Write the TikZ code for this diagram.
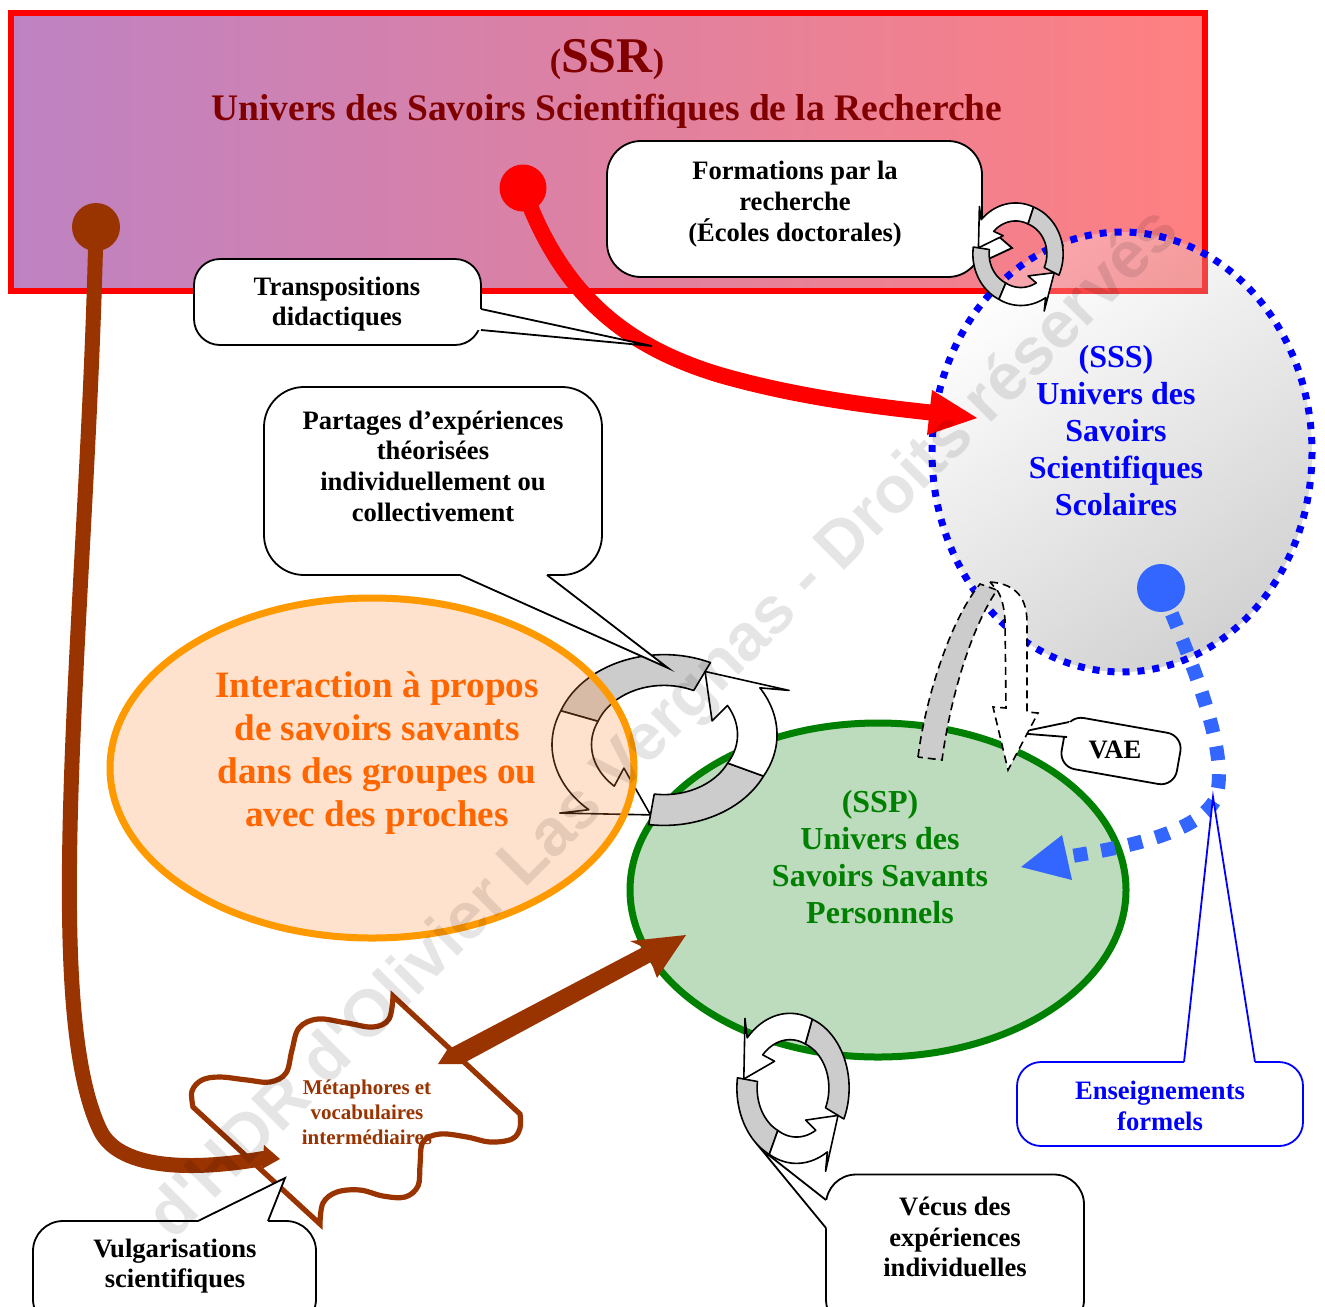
\documentclass[tikz,border=0pt]{standalone}
\usepackage{fontspec}
\setmainfont{Liberation Serif}
\newfontfamily\wmfont{Liberation Sans}
\usetikzlibrary{calc}
\definecolor{hdrL}{RGB}{190,130,195}
\definecolor{hdrR}{RGB}{255,128,128}
\definecolor{ssrRed}{RGB}{255,0,0}
\definecolor{dRed}{RGB}{128,0,0}
\definecolor{sssBlue}{RGB}{0,0,255}
\definecolor{dotBlue}{RGB}{51,102,255}
\definecolor{orB}{RGB}{255,153,0}
\definecolor{orT}{RGB}{255,102,0}
\definecolor{orF}{RGB}{255,140,60}
\definecolor{grB}{RGB}{0,128,0}
\definecolor{grF}{RGB}{189,219,189}
\definecolor{brn}{RGB}{153,51,0}
\definecolor{ribGray}{RGB}{204,204,204}

% one ribbon of a circular arrow: #1 start, #2 gray/white join, #3 head base, #4 tip, #5 bulge
\newcommand\cycrib[5]{%
  \filldraw[ribG] plot[domain=#1:#2,samples=30,variable=\t] ({122*cos(\t)},{122*sin(\t)})
    -- plot[domain=#2:#1,samples=30,variable=\t] ({78*cos(\t)},{78*sin(\t)}) -- cycle;
  \filldraw[ribW] plot[domain=#2:#3,samples=30,variable=\t]
      ({(122+#5*(\t-#2)/(#3-#2))*cos(\t)},{(122+#5*(\t-#2)/(#3-#2))*sin(\t)})
    -- ({(148+#5)*cos(#3-8)},{(148+#5)*sin(#3-8)})
    -- ({(100+#5)*cos(#4)},{(100+#5)*sin(#4)})
    -- ({(52+#5)*cos(#3-8)},{(52+#5)*sin(#3-8)})
    -- plot[domain=#3:#2,samples=30,variable=\t]
      ({(78+#5*(\t-#2)/(#3-#2))*cos(\t)},{(78+#5*(\t-#2)/(#3-#2))*sin(\t)}) -- cycle;
}

\tikzset{
  cbox/.style={draw=black, line width=0.9pt, fill=white, inner sep=0pt},
  ctext/.style={align=center, font=\bfseries\fontsize{13.3}{15.3}\selectfont, inner sep=0pt},
  ribG/.style={draw=black, line width=0.8pt, fill=ribGray, line join=round},
  ribW/.style={draw=black, line width=0.8pt, fill=white, line join=round},
  cline/.style={draw=black, line width=0.9pt, line join=miter},
  vae/.style={draw=black, line width=0.8pt, dash pattern=on 4pt off 2.5pt},
  cyc/.pic={\begin{scope}[yscale=-1]
      \cycrib{65}{160}{230}{262}{8}
      \cycrib{262}{335}{395}{425}{8}
    \end{scope}},
}

\begin{document}
\begin{tikzpicture}[x=0.5pt,y=-0.5pt]
\clip (0,0) rectangle (1325,1306);
\fill[white] (0,0) rectangle (1325,1306);

% ---------- SSR header ----------
\shade[left color=hdrL, right color=hdrR] (11,13) rectangle (1205,291);
\draw[ssrRed, line width=3.2pt] (11,13) rectangle (1205,291);
\node[text=dRed, font=\bfseries, inner sep=0pt] (ssr) at (607,60)
  {\fontsize{17}{20}\selectfont(\fontsize{25}{28}\selectfont SSR\fontsize{17}{20}\selectfont)};
\node[text=dRed, font=\bfseries\fontsize{18.75}{22}\selectfont, inner sep=0pt] (ssrT) at (607,111)
  {Univers des Savoirs Scientifiques de la Recherche};

% ---------- SSS ----------
\shade[top color=white, bottom color=black!58, shading angle=35, opacity=0.3]
  (1122,452) ellipse [x radius=190, y radius=220];
\draw[sssBlue, line width=3.5pt, dash pattern=on 3.5pt off 4pt]
  (1122,452) ellipse [x radius=190, y radius=220];
\node[text=sssBlue, font=\bfseries\fontsize{16}{18.5}\selectfont, align=center, inner sep=0pt] (sss) at (1116,431)
  {(SSS)\\Univers des\\Savoirs\\Scientifiques\\Scolaires};

% ---------- SSP ----------
\fill[grF] (878,890) ellipse [x radius=248, y radius=167];
\draw[grB, line width=3.5pt] (878,890) ellipse [x radius=248, y radius=167];
\node[text=grB, font=\bfseries\fontsize{16}{18.5}\selectfont, align=center, inner sep=0pt] (ssp) at (880,857)
  {(SSP)\\Univers des\\Savoirs Savants\\Personnels};

% ---------- big circular arrow ----------
\pic[xscale=0.9, yscale=0.7] at (664,740) {cyc};

% ---------- orange ellipse ----------
\fill[orF, fill opacity=0.25] (372,768) ellipse [x radius=262, y radius=170];
\draw[orB, line width=3.5pt] (372,768) ellipse [x radius=262, y radius=170];
\node[text=orT, font=\bfseries\fontsize{18.6}{21.6}\selectfont, align=center, inner sep=0pt] (inter) at (377,753)
  {Interaction à propos\\de savoirs savants\\dans des groupes ou\\avec des proches};

% ---------- red arrow ----------
\node[circle, fill=ssrRed, minimum size=23.5pt, inner sep=0pt] (rdot) at (523,188) {};
\coordinate (rtip) at (977,418);
\draw[ssrRed, line width=8pt] (rdot.center) .. controls (560,290) and (620,345) .. (720,375)
  .. controls (800,398) and (880,407) .. (935,413);
\fill[ssrRed] (932,390) -- (rtip) -- (927,435) -- cycle;

% ---------- brown arrow ----------
\node[circle, fill=brn, minimum size=24pt, inner sep=0pt] (bdot) at (96,227) {};
\coordinate (btip) at (280,1159);
\draw[brn, line width=7.5pt] (bdot.center) .. controls (88,600) and (38,1000) .. (100,1130)
  .. controls (120,1172) and (200,1170) .. (266,1158);
\fill[brn] (264,1145) -- (btip) -- (262,1169) -- cycle;

% ---------- Metaphores shape ----------
\draw[brn, line width=2.6pt, line join=miter]
  (393,996) -- (520,1114)
  -- plot[smooth, tension=0.6] coordinates {(520,1114) (520,1128) (512,1139) (490,1142) (467,1137) (440,1134) (423,1142) (420,1165) (418,1186) (405,1197) (383,1196) (360,1190) (337,1192) (323,1203) (320,1224)}
  -- (193,1107)
  -- plot[smooth, tension=0.6] coordinates {(193,1107) (192,1091) (202,1080) (220,1077) (247,1080) (270,1082) (286,1073) (292,1050) (299,1028) (318,1019) (347,1023) (373,1027) (389,1019) (393,996)}
  -- cycle;
\node[text=brn, font=\bfseries\fontsize{10.5}{12.5}\selectfont, align=center, inner sep=0pt] (meta) at (367,1112)
  {Métaphores et\\vocabulaires\\intermédiaires};
\coordinate (mtip) at (686,935);
\fill[brn] (438,1064) -- (447,1050) -- (643,947) -- (630,941) -- (mtip) -- (657,978) -- (651,962) -- (462,1064) -- cycle;

% ---------- blue dotted arrow ----------
\node[circle, fill=dotBlue, minimum size=24pt, inner sep=0pt] (bldot) at (1161,588) {};
\coordinate (bltip) at (1021,867);
\draw[dotBlue, line width=7pt, dash pattern=on 7pt off 7pt] (bldot.center)
  .. controls (1200,680) and (1230,760) .. (1215,800)
  .. controls (1195,835) and (1120,848) .. (1066,857);
\fill[dotBlue] (1062,835) -- (bltip) -- (1072,880) -- cycle;

% ---------- callouts ----------
% Formations
\node[cbox, rounded corners=17pt, minimum width=187.5pt, minimum height=68pt] (fmB) at (794.5,209) {};
\fill[white] (982,222) -- (1012,248) -- (982,262) -- (976,262) -- (976,222) -- cycle;
\draw[cline] (982,222) -- (1012,248) -- (982,262);
\node[ctext, font=\bfseries\fontsize{13.3}{15.5}\selectfont] (fmT) at (795,204)
  {Formations par la\\recherche\\(Écoles doctorales)};

% Transpositions
\node[cbox, rounded corners=13pt, minimum width=143.5pt, minimum height=43pt] (tpB) at (337.5,302) {};
\coordinate (tpTip) at (652,346);
\fill[white] (481,309) -- (tpTip) -- (481,330) -- (476,330) -- (476,309) -- cycle;
\draw[cline] (481,309) -- (tpTip) -- (481,330);
\node[ctext] (tpT) at (337,304) {Transpositions\\didactiques};

% Partages
\node[cbox, rounded corners=20pt, minimum width=169pt, minimum height=94pt] (ptB) at (433,481) {};
\coordinate (ptTip) at (668,668);
\fill[white] (460,575) -- (ptTip) -- (547,575) -- (547,570) -- (460,570) -- cycle;
\draw[cline] (460,575) -- (ptTip) -- (547,575);
\node[ctext] (ptT) at (433,466) {Partages d’expériences\\théorisées\\individuellement ou\\collectivement};

% VAE
\node[cbox, rounded corners=8pt, rotate=-10, minimum width=58.5pt, minimum height=26pt] (vaeB) at (1121,751) {};
\coordinate (vaeTip) at (1016,733);
\fill[white] (1069,722) -- (vaeTip) -- (1067,737) -- (1073,738) -- (1075,723) -- cycle;
\draw[cline] (1069,722) -- (vaeTip) -- (1067,737);
\node[ctext, font=\bfseries\fontsize{13.3}{15}\selectfont] (vaeT) at (1115,750) {VAE};

% Enseignements
\node[cbox, draw=sssBlue, rounded corners=12pt, minimum width=143pt, minimum height=42pt] (enB) at (1160,1104) {};
\coordinate (enTip) at (1213,797);
\fill[white] (1184,1062) -- (enTip) -- (1255,1062) -- (1255,1067) -- (1184,1067) -- cycle;
\draw[cline, draw=sssBlue] (1184,1062) -- (enTip) -- (1255,1062);
\node[ctext, text=sssBlue] (enT) at (1160,1106) {Enseignements\\formels};

% Vecus
\node[cbox, rounded corners=15pt, minimum width=129pt, minimum height=77.5pt] (vcB) at (955,1252) {};
\coordinate (vcTip) at (761,1149);
\fill[white] (826,1200) -- (vcTip) -- (826,1228) -- (831,1228) -- (831,1200) -- cycle;
\draw[cline] (826,1200) -- (vcTip) -- (826,1228);
\node[ctext] (vcT) at (955,1237) {Vécus des\\expériences\\individuelles};

% Vulgarisations
\node[cbox, rounded corners=15pt, minimum width=141.5pt, minimum height=54pt] (vgB) at (174.5,1275) {};
\coordinate (vgTip) at (285,1178);
\fill[white] (198,1221) -- (vgTip) -- (268,1221) -- (268,1226) -- (198,1226) -- cycle;
\draw[cline] (198,1221) -- (vgTip) -- (268,1221);
\node[ctext] (vgT) at (175,1266) {Vulgarisations\\scientifiques};

% ---------- small circular arrows ----------
\pic[rotate=-90, xscale=0.41, yscale=0.37] at (1018,254) {cyc};
\pic[rotate=-90, xscale=0.6, yscale=0.46] at (793,1088) {cyc};

% ---------- VAE dashed arrows ----------
\filldraw[vae, fill=ribGray] (918,757) .. controls (925,700) and (950,620) .. (980,584)
  -- (997,590) .. controls (970,630) and (950,700) .. (942,760) -- cycle;
\filldraw[vae, fill=white] (990,582) .. controls (1018,584) and (1027,600) .. (1027,623)
  -- (1027,712) -- (1038,713) -- (1008,770) -- (993,707) -- (1006,708)
  -- (1005,620) .. controls (1004,605) and (1001,596) .. (997,590) -- cycle;

% ---------- watermark ----------
\node[rotate=45, text=black, opacity=0.1, font=\wmfont\bfseries\fontsize{33}{33}\selectfont, inner sep=0pt] (wm) at (665,725)
  {d'HDR d'Olivier Las Vergnas - Droits réservés};
\end{tikzpicture}
\end{document}
